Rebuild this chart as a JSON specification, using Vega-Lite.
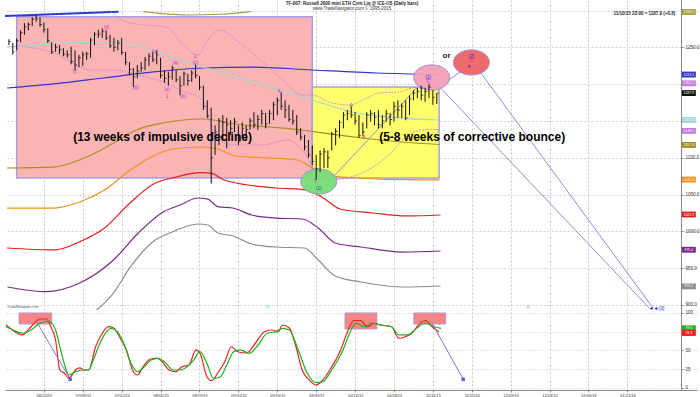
{
"$schema":"https://vega.github.io/schema/vega-lite/v6.json",
"width":700,"height":397,
"autosize":{"type":"fit","contains":"padding"},
"padding":{"left":1,"top":0,"right":1,"bottom":0},
"background":"white",
"config":{"view":{"stroke":null},"font":"Liberation Sans","axis":{"labelFont":"Liberation Sans"}},
"datasets":{
"bars":[
{"i":1,"h":1261,"l":1253,"c":1258},{"i":2,"h":1256,"l":1240,"c":1244},{"i":3,"h":1262,"l":1246,"c":1259},{"i":4,"h":1273,"l":1257,"c":1270},{"i":5,"h":1283,"l":1267,"c":1278},{"i":6,"h":1284,"l":1273,"c":1281},{"i":7,"h":1291,"l":1279,"c":1288},{"i":8,"h":1294,"l":1285,"c":1289},{"i":9,"h":1291,"l":1278,"c":1281},{"i":10,"h":1284,"l":1270,"c":1274},
{"i":11,"h":1276,"l":1256,"c":1259},{"i":12,"h":1257,"l":1241,"c":1244},{"i":13,"h":1255,"l":1244,"c":1250},{"i":14,"h":1253,"l":1241,"c":1247},{"i":15,"h":1249,"l":1238,"c":1241},{"i":16,"h":1246,"l":1236,"c":1240},{"i":17,"h":1251,"l":1227,"c":1231},{"i":18,"h":1246,"l":1219,"c":1226},{"i":19,"h":1240,"l":1223,"c":1236},{"i":20,"h":1244,"l":1225,"c":1240},
{"i":21,"h":1244,"l":1233,"c":1241},{"i":22,"h":1263,"l":1236,"c":1260},{"i":23,"h":1271,"l":1253,"c":1268},{"i":24,"h":1274,"l":1263,"c":1268},{"i":25,"h":1276,"l":1263,"c":1272},{"i":26,"h":1273,"l":1260,"c":1263},{"i":27,"h":1267,"l":1249,"c":1252},{"i":28,"h":1263,"l":1244,"c":1250},{"i":29,"h":1260,"l":1246,"c":1256},{"i":30,"h":1263,"l":1240,"c":1243},
{"i":31,"h":1244,"l":1226,"c":1230},{"i":32,"h":1230,"l":1212,"c":1220},{"i":33,"h":1222,"l":1196,"c":1210},{"i":34,"h":1226,"l":1208,"c":1218},{"i":35,"h":1230,"l":1217,"c":1222},{"i":36,"h":1237,"l":1219,"c":1233},{"i":37,"h":1242,"l":1225,"c":1238},{"i":38,"h":1244,"l":1230,"c":1233},{"i":39,"h":1246,"l":1227,"c":1240},{"i":40,"h":1236,"l":1208,"c":1212},
{"i":41,"h":1219,"l":1202,"c":1208},{"i":42,"h":1217,"l":1198,"c":1210},{"i":43,"h":1225,"l":1206,"c":1222},{"i":44,"h":1219,"l":1203,"c":1206},{"i":45,"h":1211,"l":1185,"c":1198},{"i":46,"h":1217,"l":1198,"c":1214},{"i":47,"h":1214,"l":1198,"c":1205},{"i":48,"h":1219,"l":1203,"c":1215},{"i":49,"h":1227,"l":1208,"c":1212},{"i":50,"h":1211,"l":1192,"c":1196},
{"i":51,"h":1198,"l":1165,"c":1170},{"i":52,"h":1178,"l":1154,"c":1157},{"i":53,"h":1168,"l":1066,"c":1100},{"i":54,"h":1144,"l":1104,"c":1135},{"i":55,"h":1154,"l":1117,"c":1150},{"i":56,"h":1158,"l":1124,"c":1148},{"i":57,"h":1154,"l":1113,"c":1145},{"i":58,"h":1151,"l":1131,"c":1140},{"i":59,"h":1154,"l":1135,"c":1149},{"i":60,"h":1144,"l":1117,"c":1122},
{"i":61,"h":1148,"l":1127,"c":1140},{"i":62,"h":1144,"l":1124,"c":1138},{"i":63,"h":1154,"l":1138,"c":1150},{"i":64,"h":1162,"l":1140,"c":1145},{"i":65,"h":1158,"l":1138,"c":1152},{"i":66,"h":1165,"l":1145,"c":1160},{"i":67,"h":1161,"l":1140,"c":1146},{"i":68,"h":1165,"l":1146,"c":1160},{"i":69,"h":1176,"l":1151,"c":1172},{"i":70,"h":1182,"l":1158,"c":1178},
{"i":71,"h":1189,"l":1165,"c":1170},{"i":72,"h":1178,"l":1154,"c":1165},{"i":73,"h":1172,"l":1149,"c":1152},{"i":74,"h":1165,"l":1145,"c":1150},{"i":75,"h":1158,"l":1131,"c":1135},{"i":76,"h":1140,"l":1124,"c":1128},{"i":77,"h":1131,"l":1110,"c":1115},{"i":78,"h":1124,"l":1100,"c":1104},{"i":79,"h":1117,"l":1090,"c":1095},{"i":80,"h":1104,"l":1070,"c":1085},
{"i":81,"h":1110,"l":1081,"c":1105},{"i":82,"h":1113,"l":1086,"c":1108},{"i":83,"h":1110,"l":1086,"c":1100},{"i":84,"h":1135,"l":1110,"c":1132},{"i":85,"h":1140,"l":1117,"c":1136},{"i":86,"h":1151,"l":1127,"c":1148},{"i":87,"h":1162,"l":1140,"c":1158},{"i":88,"h":1165,"l":1151,"c":1160},{"i":89,"h":1170,"l":1154,"c":1158},{"i":90,"h":1162,"l":1145,"c":1150},
{"i":91,"h":1158,"l":1127,"c":1130},{"i":92,"h":1148,"l":1130,"c":1135},{"i":93,"h":1162,"l":1140,"c":1158},{"i":94,"h":1165,"l":1149,"c":1160},{"i":95,"h":1162,"l":1144,"c":1155},{"i":96,"h":1165,"l":1140,"c":1145},{"i":97,"h":1158,"l":1140,"c":1150},{"i":98,"h":1165,"l":1149,"c":1160},{"i":99,"h":1161,"l":1144,"c":1152},{"i":100,"h":1176,"l":1149,"c":1170},
{"i":101,"h":1178,"l":1154,"c":1165},{"i":102,"h":1174,"l":1154,"c":1170},{"i":103,"h":1178,"l":1151,"c":1154},{"i":104,"h":1185,"l":1158,"c":1180},{"i":105,"h":1192,"l":1178,"c":1188},{"i":106,"h":1195,"l":1181,"c":1190},{"i":107,"h":1198,"l":1178,"c":1185},{"i":108,"h":1195,"l":1176,"c":1190},{"i":109,"h":1200,"l":1181,"c":1196},{"i":110,"h":1192,"l":1172,"c":1182},
{"i":111,"h":1188,"l":1173,"c":1187.9}
],
"curves":[
{"s":"trend","i":0,"p":1292.7},{"s":"trend","i":29.2,"p":1298.5},
{"s":"olivetop","i":35.55,"p":1298.5},{"s":"olivetop","i":46.54,"p":1294.0},{"s":"olivetop","i":55.23,"p":1295.0},{"s":"olivetop","i":63.16,"p":1298.5},
{"s":"blue","i":0.54,"p":1194.8},{"s":"blue","i":12.56,"p":1200.3},{"s":"blue","i":25.33,"p":1208.4},{"s":"blue","i":38.11,"p":1216.6},{"s":"blue","i":50.89,"p":1222.0},{"s":"blue","i":63.67,"p":1223.3},{"s":"blue","i":79.0,"p":1219.3},{"s":"blue","i":95.61,"p":1215.2},{"s":"blue","i":111.46,"p":1213.1},
{"s":"cyan","i":0.54,"p":1250.5},{"s":"cyan","i":8.21,"p":1253.2},{"s":"cyan","i":16.9,"p":1256.0},{"s":"cyan","i":25.33,"p":1257.3},{"s":"cyan","i":33.77,"p":1253.2},{"s":"cyan","i":42.46,"p":1236.9},{"s":"cyan","i":53.44,"p":1219.3},{"s":"cyan","i":66.22,"p":1198.9},{"s":"cyan","i":79.0,"p":1178.5},{"s":"cyan","i":89.22,"p":1162.2},{"s":"cyan","i":102.0,"p":1154.0},{"s":"cyan","i":111.46,"p":1151.3},
{"s":"olive","i":0.54,"p":1086.1},{"s":"olive","i":12.56,"p":1087.4},{"s":"olive","i":20.99,"p":1101.0},{"s":"olive","i":27.89,"p":1120.1},{"s":"olive","i":33.77,"p":1137.7},{"s":"olive","i":40.67,"p":1147.2},{"s":"olive","i":50.89,"p":1152.7},{"s":"olive","i":59.32,"p":1145.9},{"s":"olive","i":68.01,"p":1141.8},{"s":"olive","i":76.45,"p":1137.7},{"s":"olive","i":81.56,"p":1133.7},{"s":"olive","i":91.78,"p":1126.9},{"s":"olive","i":102.0,"p":1121.4},{"s":"olive","i":111.71,"p":1118.0},
{"s":"orange","i":0.54,"p":1031.7},{"s":"orange","i":12.56,"p":1031.7},{"s":"orange","i":19.2,"p":1039.9},{"s":"orange","i":25.59,"p":1056.2},{"s":"orange","i":32.23,"p":1083.4},{"s":"orange","i":38.11,"p":1102.4},{"s":"orange","i":43.22,"p":1111.9},{"s":"orange","i":50.89,"p":1114.6},{"s":"orange","i":54.72,"p":1111.9},{"s":"orange","i":59.32,"p":1102.4},{"s":"orange","i":68.01,"p":1099.7},{"s":"orange","i":75.17,"p":1097.0},{"s":"orange","i":79.0,"p":1086.1},{"s":"orange","i":84.11,"p":1075.2},{"s":"orange","i":96.89,"p":1071.1},{"s":"orange","i":111.71,"p":1070.0},
{"s":"red","i":0.54,"p":977.4},{"s":"red","i":12.71,"p":974.7},{"s":"red","i":19.2,"p":985.9},{"s":"red","i":25.59,"p":1004.5},{"s":"red","i":32.13,"p":1038.5},{"s":"red","i":38.62,"p":1065.7},{"s":"red","i":42.97,"p":1072.5},{"s":"red","i":50.38,"p":1079.7},{"s":"red","i":53.19,"p":1078.9},{"s":"red","i":55.75,"p":1071.1},{"s":"red","i":62.39,"p":1063.0},{"s":"red","i":69.8,"p":1058.9},{"s":"red","i":77.47,"p":1056.2},{"s":"red","i":81.81,"p":1045.3},{"s":"red","i":86.16,"p":1030.4},{"s":"red","i":94.59,"p":1024.9},{"s":"red","i":103.28,"p":1020.9},{"s":"red","i":111.97,"p":1022.2},
{"s":"purple","i":0.65,"p":924.4},{"s":"purple","i":10.51,"p":918.0},{"s":"purple","i":19.2,"p":929.8},{"s":"purple","i":27.89,"p":961.1},{"s":"purple","i":34.28,"p":997.8},{"s":"purple","i":40.67,"p":1026.3},{"s":"purple","i":45.01,"p":1035.8},{"s":"purple","i":49.61,"p":1045.3},{"s":"purple","i":52.17,"p":1043.9},{"s":"purple","i":54.72,"p":1033.5},{"s":"purple","i":58.56,"p":1031.7},{"s":"purple","i":63.41,"p":1022.2},{"s":"purple","i":69.8,"p":1018.1},{"s":"purple","i":76.45,"p":1016.8},{"s":"purple","i":80.54,"p":1004.5},{"s":"purple","i":84.88,"p":984.2},{"s":"purple","i":91.53,"p":978.7},{"s":"purple","i":102.26,"p":971.9},{"s":"purple","i":111.97,"p":973.3},
{"s":"gray","i":23.54,"p":893.1},{"s":"gray","i":27.89,"p":916.2},{"s":"gray","i":32.23,"p":951.6},{"s":"gray","i":38.62,"p":988.2},{"s":"gray","i":42.97,"p":999.1},{"s":"gray","i":49.61,"p":1010.0},{"s":"gray","i":52.17,"p":1008.6},{"s":"gray","i":54.72,"p":997.8},{"s":"gray","i":58.56,"p":993.7},{"s":"gray","i":63.41,"p":982.8},{"s":"gray","i":69.8,"p":978.7},{"s":"gray","i":76.96,"p":977.4},{"s":"gray","i":80.54,"p":961.1},{"s":"gray","i":84.88,"p":939.3},{"s":"gray","i":91.53,"p":931.2},{"s":"gray","i":102.26,"p":924.4},{"s":"gray","i":111.97,"p":925.7},
{"s":"lilacup","i":26.61,"p":1300.8},{"s":"lilacup","i":31.21,"p":1284.5},{"s":"lilacup","i":36.32,"p":1280.4},{"s":"lilacup","i":41.43,"p":1277.7},{"s":"lilacup","i":45.78,"p":1253.2},{"s":"lilacup","i":49.61,"p":1239.7},{"s":"lilacup","i":52.17,"p":1260.0},{"s":"lilacup","i":54.72,"p":1273.6},{"s":"lilacup","i":61.11,"p":1253.2},{"s":"lilacup","i":66.22,"p":1230.1},{"s":"lilacup","i":71.33,"p":1205.7},{"s":"lilacup","i":76.45,"p":1185.3},{"s":"lilacup","i":79.0,"p":1185.3},{"s":"lilacup","i":83.34,"p":1175.8},{"s":"lilacup","i":88.46,"p":1171.7},{"s":"lilacup","i":93.06,"p":1181.2},{"s":"lilacup","i":96.12,"p":1188.0},{"s":"lilacup","i":101.24,"p":1189.4},{"s":"lilacup","i":104.56,"p":1194.8},{"s":"lilacup","i":111.46,"p":1201.6},
{"s":"lilaclo","i":2.84,"p":1253.2},{"s":"lilaclo","i":7.44,"p":1249.2},{"s":"lilaclo","i":12.56,"p":1242.4},{"s":"lilaclo","i":18.43,"p":1226.1},{"s":"lilaclo","i":22.01,"p":1219.3},{"s":"lilaclo","i":27.89,"p":1219.3},{"s":"lilaclo","i":32.23,"p":1215.2},{"s":"lilaclo","i":37.34,"p":1208.4},{"s":"lilaclo","i":40.67,"p":1203.0},{"s":"lilaclo","i":45.01,"p":1192.1},{"s":"lilaclo","i":50.89,"p":1178.5},{"s":"lilaclo","i":53.96,"p":1130.9},{"s":"lilaclo","i":58.56,"p":1117.3},{"s":"lilaclo","i":66.22,"p":1117.3},{"s":"lilaclo","i":72.61,"p":1124.1},{"s":"lilaclo","i":76.45,"p":1110.5},{"s":"lilaclo","i":80.54,"p":1076.5},{"s":"lilaclo","i":84.11,"p":1069.7},{"s":"lilaclo","i":87.95,"p":1072.5},{"s":"lilaclo","i":91.78,"p":1079.3},{"s":"lilaclo","i":98.68,"p":1103.7},{"s":"lilaclo","i":103.79,"p":1130.9},{"s":"lilaclo","i":107.12,"p":1137.7},{"s":"lilaclo","i":111.46,"p":1138.5}
],
"zones":[{"s":"pinkzone","i1":3.0,"i2":79.0,"p1":1072.5,"p2":1291.7},{"s":"yellowzone","i1":79.0,"i2":111.6,"p1":1072.5,"p2":1196.2}],
"fib":[{"s":"fib786","p":1244.7,"t":"0.786 | 1244.7"},{"s":"fib618","p":1207.4,"t":"0.618 | 1207.4"},{"s":"fib5","p":1181.2,"t":"0.5 | 1181.2"},{"s":"fib382","p":1154.9,"t":"0.382 | 1154.9"}],
"links":[{"i1":84.1,"p1":1072.5,"i2":106.1,"p2":1196.2},{"i1":112.2,"p1":1198.9,"i2":119.0,"p2":1223.8},{"i1":111.5,"p1":1197.6,"i2":165.6,"p2":895.8},{"i1":121.4,"p1":1222.0,"i2":166.6,"p2":895.8}],
"ellipses":[{"s":"green","i":80.66,"p":1067.7},{"s":"pinkell","i":109.7,"p":1209.1},{"s":"redell","i":119.9,"p":1229.5}],
"waves":[
{"s":"wave","t":"(i)","i":17.92,"p":1216.1},{"s":"wave","t":"(ii)","i":26.18,"p":1275.9},{"s":"wave","t":"(iii)","i":33.59,"p":1195.2},{"s":"wave","t":"(iv)","i":38.54,"p":1244.1},{"s":"wave","t":"(v)","i":41.69,"p":1192.1},{"s":"wave","t":"1","i":41.69,"p":1183.0},{"s":"wave","t":"(a)","i":43.81,"p":1228.4},{"s":"wave","t":"(b)","i":45.78,"p":1183.0},{"s":"wave","t":"(c)","i":48.92,"p":1228.4},{"s":"wave","t":"2","i":48.92,"p":1237.4},{"s":"wave","t":"3","i":53.01,"p":1066.1},{"s":"wave","t":"4","i":70.49,"p":1189.0},{"s":"wave","t":"5","i":79.8,"p":1067.1},{"s":"wave","t":"A","i":89.04,"p":1170.8},{"s":"wave","t":"B","i":92.21,"p":1126.5},
{"s":"waveblue","t":"(1)","i":80.66,"p":1056.9},{"s":"waveblue","t":"(2)","i":108.8,"p":1208.0},{"s":"wave","t":"C","i":108.9,"p":1202.3},{"s":"waveblue","t":"(2)","i":119.9,"p":1237.4},{"s":"wave","t":"C","i":119.9,"p":1231.5}
],
"bmarks":[{"i":107.1,"p":1195.8},{"i":119.4,"p":1224.7}],
"notes":[
{"k":"big","t":"(13 weeks of impulsive decline)","i":40.5,"p":1128.2},
{"k":"big","t":"(5-8 weeks of corrective bounce)","i":120.1,"p":1128.2},
{"k":"or","t":"or","i":113.5,"p":1238.7},
{"k":"title","t":"TF-007:  Russell 2000 mini ETH Cont Liq @ ICE-US  (Daily bars)","i":89.2,"p":1309.0},
{"k":"sub","t":"www.TradeNavigator.com © 1995-2015","i":89.2,"p":1301.5},
{"k":"info","t":"11/10/15 23:00 = 1187.9 (+0.8)","i":172.3,"p":1295.8},
{"k":"tn","t":"TradeNavigator.com","i":0.5,"p":897.2},
{"k":"three","t":"◄◄(3)","i":165.4,"p":895.4}
],
"teal":[{"i":67.5,"p":897.2},{"i":134.5,"p":897.2}],
"tagrows":[
{"s":"olivetop","i":175.8,"p":1298.1,"t":"1298.1"},{"s":"blue","i":175.8,"p":1213.1,"t":"1213.1"},{"s":"lilacup","i":175.8,"p":1201.2,"t":"1201.2"},{"s":"price","i":175.8,"p":1187.9,"t":"1187.9"},{"s":"cyan","i":175.8,"p":1151.3,"t":"1151.3"},{"s":"lilaclo","i":175.8,"p":1136.5,"t":"1136.5"},{"s":"olive","i":175.8,"p":1117.4,"t":"1117.4"},{"s":"orange","i":175.8,"p":1070.4,"t":"1070.4"},{"s":"red","i":175.8,"p":1022.9,"t":"1022.9"},{"s":"purple","i":175.8,"p":975.0,"t":"975.0"},{"s":"gray","i":175.8,"p":925.2,"t":"925.2"}
],
"stoch":[
{"s":"K","i":0.29,"v":84},{"s":"K","i":3.2,"v":73},{"s":"K","i":4.4,"v":70.7},{"s":"K","i":6.7,"v":81.7},{"s":"K","i":9.0,"v":92},{"s":"K","i":10.7,"v":92},{"s":"K","i":11.8,"v":81.7},{"s":"K","i":13.0,"v":64},{"s":"K","i":14.1,"v":24},{"s":"K","i":15.2,"v":20},{"s":"K","i":16.4,"v":13.3},{"s":"K","i":16.9,"v":15},{"s":"K","i":18.1,"v":24},{"s":"K","i":19.2,"v":26.7},{"s":"K","i":20.4,"v":24},{"s":"K","i":21.5,"v":24},{"s":"K","i":23.3,"v":55},{"s":"K","i":25.0,"v":73},{"s":"K","i":26.6,"v":81.7},{"s":"K","i":27.9,"v":80},{"s":"K","i":29.6,"v":66.7},{"s":"K","i":31.2,"v":50.7},{"s":"K","i":33.0,"v":21.7},{"s":"K","i":34.1,"v":17.3},{"s":"K","i":35.3,"v":26.7},{"s":"K","i":37.0,"v":37.3},{"s":"K","i":38.8,"v":40},{"s":"K","i":40.4,"v":35},{"s":"K","i":42.2,"v":24},{"s":"K","i":43.9,"v":21.7},{"s":"K","i":45.5,"v":28.3},{"s":"K","i":47.3,"v":30.7},{"s":"K","i":49.1,"v":50.7},{"s":"K","i":50.1,"v":46.7},{"s":"K","i":51.9,"v":15},{"s":"K","i":53.1,"v":9.7},{"s":"K","i":54.7,"v":20},{"s":"K","i":56.5,"v":35},{"s":"K","i":58.2,"v":55},{"s":"K","i":59.8,"v":48.3},{"s":"K","i":62.1,"v":46.7},{"s":"K","i":64.4,"v":60},{"s":"K","i":66.7,"v":75},{"s":"K","i":68.5,"v":77.3},{"s":"K","i":70.3,"v":75},{"s":"K","i":71.3,"v":84},{"s":"K","i":73.1,"v":80},{"s":"K","i":74.8,"v":55},{"s":"K","i":76.4,"v":24},{"s":"K","i":78.2,"v":10.7},{"s":"K","i":80.0,"v":4},{"s":"K","i":81.7,"v":10.7},{"s":"K","i":84.0,"v":28.3},{"s":"K","i":86.3,"v":50.7},{"s":"K","i":87.9,"v":73},{"s":"K","i":89.7,"v":90},{"s":"K","i":91.4,"v":90},{"s":"K","i":93.2,"v":81.7},{"s":"K","i":94.8,"v":86.3},{"s":"K","i":96.6,"v":84},{"s":"K","i":99.4,"v":81.7},{"s":"K","i":101.2,"v":66.3},{"s":"K","i":102.9,"v":68.4},{"s":"K","i":104.6,"v":73},{"s":"K","i":106.3,"v":84},{"s":"K","i":108.1,"v":90},{"s":"K","i":109.8,"v":81.7},{"s":"K","i":111.5,"v":75},
{"s":"D","i":0.29,"v":81.7},{"s":"D","i":2.1,"v":77.3},{"s":"D","i":4.4,"v":73},{"s":"D","i":6.7,"v":77.3},{"s":"D","i":9.0,"v":86.3},{"s":"D","i":11.3,"v":89},{"s":"D","i":13.0,"v":77.3},{"s":"D","i":14.1,"v":55},{"s":"D","i":15.2,"v":33},{"s":"D","i":16.4,"v":17.3},{"s":"D","i":18.1,"v":21.7},{"s":"D","i":19.8,"v":24},{"s":"D","i":21.5,"v":24},{"s":"D","i":22.7,"v":37.3},{"s":"D","i":24.4,"v":59.6},{"s":"D","i":26.1,"v":75},{"s":"D","i":27.3,"v":79.6},{"s":"D","i":28.9,"v":75},{"s":"D","i":30.7,"v":57.3},{"s":"D","i":32.4,"v":33},{"s":"D","i":34.1,"v":21.7},{"s":"D","i":35.8,"v":28.4},{"s":"D","i":37.6,"v":37.3},{"s":"D","i":39.3,"v":39.6},{"s":"D","i":41.0,"v":35},{"s":"D","i":43.3,"v":24},{"s":"D","i":45.0,"v":24},{"s":"D","i":46.8,"v":28.4},{"s":"D","i":48.5,"v":37.3},{"s":"D","i":50.1,"v":48.4},{"s":"D","i":51.9,"v":33},{"s":"D","i":53.6,"v":12.9},{"s":"D","i":55.4,"v":15},{"s":"D","i":57.0,"v":30.7},{"s":"D","i":58.8,"v":48.4},{"s":"D","i":60.5,"v":50.7},{"s":"D","i":62.8,"v":46.3},{"s":"D","i":65.1,"v":57.3},{"s":"D","i":67.4,"v":73},{"s":"D","i":69.7,"v":75},{"s":"D","i":71.3,"v":79.6},{"s":"D","i":73.1,"v":77.3},{"s":"D","i":75.4,"v":50.7},{"s":"D","i":77.7,"v":19.6},{"s":"D","i":80.0,"v":7.1},{"s":"D","i":81.7,"v":8.4},{"s":"D","i":84.0,"v":24},{"s":"D","i":86.9,"v":50.7},{"s":"D","i":88.6,"v":73},{"s":"D","i":90.2,"v":86.3},{"s":"D","i":92.5,"v":81.7},{"s":"D","i":94.3,"v":86.3},{"s":"D","i":96.6,"v":84},{"s":"D","i":99.4,"v":81.7},{"s":"D","i":101.2,"v":70.7},{"s":"D","i":103.5,"v":70.7},{"s":"D","i":105.8,"v":79.6},{"s":"D","i":108.1,"v":86.3},{"s":"D","i":110.4,"v":81.7},{"s":"D","i":112.1,"v":79.6}
],
"sboxes":[{"i1":3.6,"i2":12.0,"v1":85.3,"v2":100},{"i1":87.4,"i2":95.6,"v1":78.7,"v2":100},{"i1":105.1,"i2":113.3,"v1":85.3,"v2":100}],
"slinks":[{"i1":8.36,"v1":86.3,"i2":16.75,"v2":11.6},{"i1":109.8,"v1":86.3,"i2":117.8,"v2":11.6}],
"slevels":[{"v":90},{"v":10}],
"stagrows":[{"s":"D","i":175.8,"v":79.6,"t":"79.6"},{"s":"K","i":175.8,"v":73.3,"t":"73.3"}]
},
"encoding":{"x":{"field":"i","type":"quantitative","title":null,"scale":{"domain":[0,177.9],"nice":false,"zero":false},
 "axis":{"values":[10,20,30,40,50,60,70,80,90,100,110,120,130,140,150,160],"labelExpr":"['06/24/15','07/08/15','07/22/15','08/05/15','08/19/15','09/02/15','09/16/15','09/30/15','10/14/15','10/28/15','11/11/15','11/25/15','12/09/15','12/23/15','01/06/16','01/21/16'][round(datum.value/10)-1]","grid":true,"gridColor":"#c8c8c8","gridDash":[2,2],"labelFontSize":4,"labelPadding":1,"tickSize":2,"domainColor":"#888888","tickColor":"#888888","labelColor":"#333333","labelOverlap":false,"labelFlush":false}}},
"layer":[
{"layer":[
 {"data":{"name":"zones"},"mark":{"type":"rect","stroke":"#a89ee6","strokeWidth":1.5},
  "encoding":{"x":{"field":"i1","type":"quantitative","title":null,"scale":{"domain":[0,177.9],"nice":false,"zero":false}},"x2":{"field":"i2"},
   "y":{"field":"p1","type":"quantitative","title":null,"scale":{"domain":[784.4,1314.4],"nice":false,"zero":false}},"y2":{"field":"p2"},
   "color":{"field":"s","type":"nominal","legend":null,"scale":{"domain":["trend","olivetop","blue","cyan","olive","orange","red","purple","gray","lilacup","lilaclo","price","fib786","fib618","fib5","fib382","pinkzone","yellowzone","wave","waveblue","K","D","green","pinkell","redell"],"range":["#2a3cd0","#a8a040","#3434c8","#a6d4d4","#a89020","#f0901c","#e02020","#7a2a86","#8c8c8c","#c07cd8","#c07cd8","#111111","#d04040","#c03a3a","#505050","#8a7070","#fab4b4","#ffff6e","#c81ec8","#2a2ad0","#e82424","#1fb21f","#77dd77","#f4a0b8","#ee6464"]}}}},
 {"data":{"name":"curves"},"transform":[{"filter":"datum.s!='lilacup' && datum.s!='lilaclo' && datum.s!='trend'"}],"mark":{"type":"line","strokeWidth":1.2,"interpolate":"monotone"},
  "encoding":{"y":{"field":"p","type":"quantitative","title":null,"scale":{"domain":[784.4,1314.4],"nice":false,"zero":false}},
   "color":{"field":"s","type":"nominal","legend":null,"scale":{"domain":["trend","olivetop","blue","cyan","olive","orange","red","purple","gray","lilacup","lilaclo","price","fib786","fib618","fib5","fib382","pinkzone","yellowzone","wave","waveblue","K","D","green","pinkell","redell"],"range":["#2a3cd0","#a8a040","#3434c8","#a6d4d4","#a89020","#f0901c","#e02020","#7a2a86","#8c8c8c","#c07cd8","#c07cd8","#111111","#d04040","#c03a3a","#505050","#8a7070","#fab4b4","#ffff6e","#c81ec8","#2a2ad0","#e82424","#1fb21f","#77dd77","#f4a0b8","#ee6464"]}}}},
 {"data":{"name":"curves"},"transform":[{"filter":"datum.s=='trend'"}],"mark":{"type":"line","strokeWidth":2,"color":"#2a3cd0"},
  "encoding":{"y":{"field":"p","type":"quantitative","title":null,"scale":{"domain":[784.4,1314.4],"nice":false,"zero":false}}}},
 {"data":{"name":"curves"},"transform":[{"filter":"datum.s=='lilacup' || datum.s=='lilaclo'"}],"mark":{"type":"line","strokeWidth":1,"strokeDash":[1.5,1.5],"interpolate":"monotone"},
  "encoding":{"y":{"field":"p","type":"quantitative","title":null,"scale":{"domain":[784.4,1314.4],"nice":false,"zero":false}},
   "color":{"field":"s","type":"nominal","legend":null,"scale":{"domain":["trend","olivetop","blue","cyan","olive","orange","red","purple","gray","lilacup","lilaclo","price","fib786","fib618","fib5","fib382","pinkzone","yellowzone","wave","waveblue","K","D","green","pinkell","redell"],"range":["#2a3cd0","#a8a040","#3434c8","#a6d4d4","#a89020","#f0901c","#e02020","#7a2a86","#8c8c8c","#c07cd8","#c07cd8","#111111","#d04040","#c03a3a","#505050","#8a7070","#fab4b4","#ffff6e","#c81ec8","#2a2ad0","#e82424","#1fb21f","#77dd77","#f4a0b8","#ee6464"]}}}},
 {"data":{"name":"fib"},"mark":{"type":"rule","strokeWidth":1.2},
  "encoding":{"x":{"datum":7.7,"type":"quantitative","title":null,"scale":{"domain":[0,177.9],"nice":false,"zero":false}},"x2":{"datum":79},
   "y":{"field":"p","type":"quantitative","title":null,"scale":{"domain":[784.4,1314.4],"nice":false,"zero":false}},
   "color":{"field":"s","type":"nominal","legend":null,"scale":{"domain":["trend","olivetop","blue","cyan","olive","orange","red","purple","gray","lilacup","lilaclo","price","fib786","fib618","fib5","fib382","pinkzone","yellowzone","wave","waveblue","K","D","green","pinkell","redell"],"range":["#2a3cd0","#a8a040","#3434c8","#a6d4d4","#a89020","#f0901c","#e02020","#7a2a86","#8c8c8c","#c07cd8","#c07cd8","#111111","#d04040","#c03a3a","#505050","#8a7070","#fab4b4","#ffff6e","#c81ec8","#2a2ad0","#e82424","#1fb21f","#77dd77","#f4a0b8","#ee6464"]}}}},
 {"data":{"name":"fib"},"mark":{"type":"rule","strokeWidth":1,"strokeDash":[1.5,2]},
  "encoding":{"x":{"datum":79,"type":"quantitative","title":null,"scale":{"domain":[0,177.9],"nice":false,"zero":false}},"x2":{"datum":165.8},
   "y":{"field":"p","type":"quantitative","title":null,"scale":{"domain":[784.4,1314.4],"nice":false,"zero":false}},
   "color":{"field":"s","type":"nominal","legend":null,"scale":{"domain":["trend","olivetop","blue","cyan","olive","orange","red","purple","gray","lilacup","lilaclo","price","fib786","fib618","fib5","fib382","pinkzone","yellowzone","wave","waveblue","K","D","green","pinkell","redell"],"range":["#2a3cd0","#a8a040","#3434c8","#a6d4d4","#a89020","#f0901c","#e02020","#7a2a86","#8c8c8c","#c07cd8","#c07cd8","#111111","#d04040","#c03a3a","#505050","#8a7070","#fab4b4","#ffff6e","#c81ec8","#2a2ad0","#e82424","#1fb21f","#77dd77","#f4a0b8","#ee6464"]}}}},
 {"data":{"name":"fib"},"mark":{"type":"text","align":"right","baseline":"middle","fontSize":4,"fontWeight":"bold"},
  "encoding":{"x":{"datum":172.5,"type":"quantitative","title":null,"scale":{"domain":[0,177.9],"nice":false,"zero":false}},
   "y":{"field":"p","type":"quantitative","title":null,"scale":{"domain":[784.4,1314.4],"nice":false,"zero":false}},"text":{"field":"t"},
   "color":{"field":"s","type":"nominal","legend":null,"scale":{"domain":["trend","olivetop","blue","cyan","olive","orange","red","purple","gray","lilacup","lilaclo","price","fib786","fib618","fib5","fib382","pinkzone","yellowzone","wave","waveblue","K","D","green","pinkell","redell"],"range":["#2a3cd0","#a8a040","#3434c8","#a6d4d4","#a89020","#f0901c","#e02020","#7a2a86","#8c8c8c","#c07cd8","#c07cd8","#111111","#d04040","#c03a3a","#505050","#8a7070","#fab4b4","#ffff6e","#c81ec8","#2a2ad0","#e82424","#1fb21f","#77dd77","#f4a0b8","#ee6464"]}}}},
 {"data":{"name":"links"},"mark":{"type":"rule","color":"#8c8cd8","strokeWidth":1},
  "encoding":{"x":{"field":"i1","type":"quantitative","title":null,"scale":{"domain":[0,177.9],"nice":false,"zero":false}},"x2":{"field":"i2"},
   "y":{"field":"p1","type":"quantitative","title":null,"scale":{"domain":[784.4,1314.4],"nice":false,"zero":false}},"y2":{"field":"p2"}}},
 {"data":{"name":"ellipses"},"mark":{"type":"point","filled":true,"opacity":0.95,"stroke":"#9a90dc","strokeWidth":1,"size":1300,"shape":"M -1 0 A 1 0.7 0 1 0 1 0 A 1 0.7 0 1 0 -1 0 Z"},
  "encoding":{"y":{"field":"p","type":"quantitative","title":null,"scale":{"domain":[784.4,1314.4],"nice":false,"zero":false}},
   "color":{"field":"s","type":"nominal","legend":null,"scale":{"domain":["trend","olivetop","blue","cyan","olive","orange","red","purple","gray","lilacup","lilaclo","price","fib786","fib618","fib5","fib382","pinkzone","yellowzone","wave","waveblue","K","D","green","pinkell","redell"],"range":["#2a3cd0","#a8a040","#3434c8","#a6d4d4","#a89020","#f0901c","#e02020","#7a2a86","#8c8c8c","#c07cd8","#c07cd8","#111111","#d04040","#c03a3a","#505050","#8a7070","#fab4b4","#ffff6e","#c81ec8","#2a2ad0","#e82424","#1fb21f","#77dd77","#f4a0b8","#ee6464"]}}}},
 {"data":{"name":"bars"},"mark":{"type":"rule","color":"#111111","strokeWidth":1},
  "encoding":{"y":{"field":"l","type":"quantitative","title":null,"scale":{"domain":[784.4,1314.4],"nice":false,"zero":false},
    "axis":{"orient":"right","offset":-16,"values":[900,925,950,975,1000,1025,1050,1075,1100,1125,1150,1175,1200,1225,1250,1275,1300],"labelExpr":"indexof([1300,1200,1150,1125,1075,1025,975,925],datum.value)>=0 ? '' : format(datum.value,'.1f')","grid":true,"gridColor":"#cccccc","gridDash":[2,2],"labelFontSize":4.5,"labelPadding":2,"tickSize":2,"domainColor":"#888888","tickColor":"#888888","labelColor":"#333333"}},"y2":{"field":"h"}}},
 {"data":{"name":"bars"},"mark":{"type":"tick","orient":"horizontal","size":2,"thickness":1,"xOffset":1,"color":"#111111"},
  "encoding":{"y":{"field":"c","type":"quantitative","title":null,"scale":{"domain":[784.4,1314.4],"nice":false,"zero":false}}}},
 {"data":{"name":"waves"},"mark":{"type":"text","fontSize":4.5,"baseline":"middle","align":"center"},
  "encoding":{"y":{"field":"p","type":"quantitative","title":null,"scale":{"domain":[784.4,1314.4],"nice":false,"zero":false}},"text":{"field":"t"},
   "color":{"field":"s","type":"nominal","legend":null,"scale":{"domain":["trend","olivetop","blue","cyan","olive","orange","red","purple","gray","lilacup","lilaclo","price","fib786","fib618","fib5","fib382","pinkzone","yellowzone","wave","waveblue","K","D","green","pinkell","redell"],"range":["#2a3cd0","#a8a040","#3434c8","#a6d4d4","#a89020","#f0901c","#e02020","#7a2a86","#8c8c8c","#c07cd8","#c07cd8","#111111","#d04040","#c03a3a","#505050","#8a7070","#fab4b4","#ffff6e","#c81ec8","#2a2ad0","#e82424","#1fb21f","#77dd77","#f4a0b8","#ee6464"]}}}},
 {"data":{"name":"bmarks"},"mark":{"type":"point","shape":"triangle-up","filled":true,"size":10,"color":"#2020d0"},
  "encoding":{"y":{"field":"p","type":"quantitative","title":null,"scale":{"domain":[784.4,1314.4],"nice":false,"zero":false}}}},
 {"data":{"name":"teal"},"mark":{"type":"point","shape":"diamond","filled":false,"size":14,"color":"#40b8b8","strokeWidth":0.8},
  "encoding":{"y":{"field":"p","type":"quantitative","title":null,"scale":{"domain":[784.4,1314.4],"nice":false,"zero":false}}}},
 {"data":{"name":"notes"},"transform":[{"filter":"datum.k=='big'"}],"mark":{"type":"text","fontSize":12,"fontWeight":"bold","font":"Liberation Sans","align":"center","baseline":"middle","color":"#000000"},
  "encoding":{"y":{"field":"p","type":"quantitative","title":null,"scale":{"domain":[784.4,1314.4],"nice":false,"zero":false}},"text":{"field":"t"}}},
 {"data":{"name":"notes"},"transform":[{"filter":"datum.k=='or'"}],"mark":{"type":"text","fontSize":8,"fontWeight":"bold","align":"center","baseline":"middle","color":"#222222"},
  "encoding":{"y":{"field":"p","type":"quantitative","title":null,"scale":{"domain":[784.4,1314.4],"nice":false,"zero":false}},"text":{"field":"t"}}},
 {"data":{"name":"notes"},"transform":[{"filter":"datum.k=='title'"}],"mark":{"type":"text","fontSize":4.5,"fontWeight":"bold","align":"center","baseline":"middle","color":"#222222"},
  "encoding":{"y":{"field":"p","type":"quantitative","title":null,"scale":{"domain":[784.4,1314.4],"nice":false,"zero":false}},"text":{"field":"t"}}},
 {"data":{"name":"notes"},"transform":[{"filter":"datum.k=='sub'"}],"mark":{"type":"text","fontSize":4.5,"align":"center","baseline":"middle","color":"#333333"},
  "encoding":{"y":{"field":"p","type":"quantitative","title":null,"scale":{"domain":[784.4,1314.4],"nice":false,"zero":false}},"text":{"field":"t"}}},
 {"data":{"name":"notes"},"transform":[{"filter":"datum.k=='info'"}],"mark":{"type":"text","fontSize":4.5,"fontWeight":"bold","align":"right","baseline":"middle","color":"#222222"},
  "encoding":{"y":{"field":"p","type":"quantitative","title":null,"scale":{"domain":[784.4,1314.4],"nice":false,"zero":false}},"text":{"field":"t"}}},
 {"data":{"name":"notes"},"transform":[{"filter":"datum.k=='tn'"}],"mark":{"type":"text","fontSize":3.5,"align":"left","baseline":"middle","color":"#3a6a6a"},
  "encoding":{"y":{"field":"p","type":"quantitative","title":null,"scale":{"domain":[784.4,1314.4],"nice":false,"zero":false}},"text":{"field":"t"}}},
 {"data":{"name":"notes"},"transform":[{"filter":"datum.k=='three'"}],"mark":{"type":"text","fontSize":5,"align":"left","baseline":"middle","color":"#2020d0"},
  "encoding":{"y":{"field":"p","type":"quantitative","title":null,"scale":{"domain":[784.4,1314.4],"nice":false,"zero":false}},"text":{"field":"t"}}},
 {"data":{"name":"tagrows"},"mark":{"type":"point","filled":true,"opacity":1,"size":196,"shape":"M -1 -0.42 L 1 -0.42 L 1 0.42 L -1 0.42 Z"},
  "encoding":{"y":{"field":"p","type":"quantitative","title":null,"scale":{"domain":[784.4,1314.4],"nice":false,"zero":false}},
   "color":{"field":"s","type":"nominal","legend":null,"scale":{"domain":["trend","olivetop","blue","cyan","olive","orange","red","purple","gray","lilacup","lilaclo","price","fib786","fib618","fib5","fib382","pinkzone","yellowzone","wave","waveblue","K","D","green","pinkell","redell"],"range":["#2a3cd0","#a8a040","#3434c8","#a6d4d4","#a89020","#f0901c","#e02020","#7a2a86","#8c8c8c","#c07cd8","#c07cd8","#111111","#d04040","#c03a3a","#505050","#8a7070","#fab4b4","#ffff6e","#c81ec8","#2a2ad0","#e82424","#1fb21f","#77dd77","#f4a0b8","#ee6464"]}}}},
 {"data":{"name":"tagrows"},"mark":{"type":"text","fontSize":3.5,"align":"center","baseline":"middle","color":"#ffffff"},
  "encoding":{"y":{"field":"p","type":"quantitative","title":null,"scale":{"domain":[784.4,1314.4],"nice":false,"zero":false}},"text":{"field":"t"}}}
]},
{"layer":[
 {"data":{"name":"sboxes"},"mark":{"type":"rect","color":"#f47a7a","opacity":0.9,"stroke":"#b48cd0","strokeWidth":1},
  "encoding":{"x":{"field":"i1","type":"quantitative","title":null,"scale":{"domain":[0,177.9],"nice":false,"zero":false}},"x2":{"field":"i2"},
   "y":{"field":"v1","type":"quantitative","title":null,"scale":{"domain":[-2.67,517.3],"nice":false,"zero":false}},"y2":{"field":"v2"}}},
 {"data":{"name":"slevels"},"mark":{"type":"rule","color":"#e06a6a","strokeDash":[1,2],"strokeWidth":1},
  "encoding":{"x":{"datum":0,"type":"quantitative","title":null,"scale":{"domain":[0,177.9],"nice":false,"zero":false}},"x2":{"datum":173.8},
   "y":{"field":"v","type":"quantitative","title":null,"scale":{"domain":[-2.67,517.3],"nice":false,"zero":false}}}},
 {"data":{"name":"stoch"},"mark":{"type":"line","strokeWidth":1.2,"interpolate":"monotone"},
  "encoding":{"y":{"field":"v","type":"quantitative","title":null,"scale":{"domain":[-2.67,517.3],"nice":false,"zero":false},
    "axis":{"orient":"right","offset":-16,"values":[0,25,50,75,100],"labelExpr":"datum.value==75 ? '' : datum.label","grid":true,"gridColor":"#cccccc","gridDash":[1,2],"labelFontSize":4.5,"labelPadding":2,"tickSize":2,"domainColor":"#888888","tickColor":"#888888","labelColor":"#333333"}},
   "color":{"field":"s","type":"nominal","legend":null,"scale":{"domain":["trend","olivetop","blue","cyan","olive","orange","red","purple","gray","lilacup","lilaclo","price","fib786","fib618","fib5","fib382","pinkzone","yellowzone","wave","waveblue","K","D","green","pinkell","redell"],"range":["#2a3cd0","#a8a040","#3434c8","#a6d4d4","#a89020","#f0901c","#e02020","#7a2a86","#8c8c8c","#c07cd8","#c07cd8","#111111","#d04040","#c03a3a","#505050","#8a7070","#fab4b4","#ffff6e","#c81ec8","#2a2ad0","#e82424","#1fb21f","#77dd77","#f4a0b8","#ee6464"]}}}},
 {"data":{"name":"slinks"},"mark":{"type":"rule","color":"#7b7bd0","strokeWidth":1},
  "encoding":{"x":{"field":"i1","type":"quantitative","title":null,"scale":{"domain":[0,177.9],"nice":false,"zero":false}},"x2":{"field":"i2"},
   "y":{"field":"v1","type":"quantitative","title":null,"scale":{"domain":[-2.67,517.3],"nice":false,"zero":false}},"y2":{"field":"v2"}}},
 {"data":{"name":"slinks"},"mark":{"type":"point","shape":"square","filled":true,"size":12,"color":"#2020d0"},
  "encoding":{"x":{"field":"i2","type":"quantitative","title":null,"scale":{"domain":[0,177.9],"nice":false,"zero":false}},
   "y":{"field":"v2","type":"quantitative","title":null,"scale":{"domain":[-2.67,517.3],"nice":false,"zero":false}}}},
 {"data":{"name":"stagrows"},"mark":{"type":"point","filled":true,"opacity":1,"size":196,"shape":"M -1 -0.42 L 1 -0.42 L 1 0.42 L -1 0.42 Z"},
  "encoding":{"y":{"field":"v","type":"quantitative","title":null,"scale":{"domain":[-2.67,517.3],"nice":false,"zero":false}},
   "color":{"field":"s","type":"nominal","legend":null,"scale":{"domain":["trend","olivetop","blue","cyan","olive","orange","red","purple","gray","lilacup","lilaclo","price","fib786","fib618","fib5","fib382","pinkzone","yellowzone","wave","waveblue","K","D","green","pinkell","redell"],"range":["#2a3cd0","#a8a040","#3434c8","#a6d4d4","#a89020","#f0901c","#e02020","#7a2a86","#8c8c8c","#c07cd8","#c07cd8","#111111","#d04040","#c03a3a","#505050","#8a7070","#fab4b4","#ffff6e","#c81ec8","#2a2ad0","#e82424","#1fb21f","#77dd77","#f4a0b8","#ee6464"]}}}},
 {"data":{"name":"stagrows"},"mark":{"type":"text","fontSize":3.5,"align":"center","baseline":"middle","color":"#ffffff"},
  "encoding":{"y":{"field":"v","type":"quantitative","title":null,"scale":{"domain":[-2.67,517.3],"nice":false,"zero":false}},"text":{"field":"t"}}}
]}
],
"resolve":{"scale":{"y":"independent"},"axis":{"y":"independent"}}
}
